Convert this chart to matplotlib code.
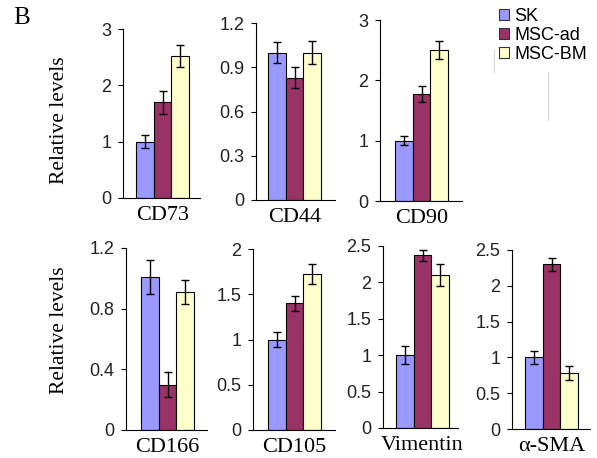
import matplotlib
matplotlib.use("Agg")
import matplotlib.pyplot as plt
from matplotlib.lines import Line2D
from matplotlib.patches import Patch

# Relative expression levels (SK, MSC-ad, MSC-BM)
groups = ['SK', 'MSC-ad', 'MSC-BM']
markers = ['CD73', 'CD44', 'CD90', 'CD166', 'CD105', 'Vimentin', 'α-SMA']
means = {
    'CD73': [1.0, 1.70, 2.52],
    'CD44': [1.0, 0.83, 1.00],
    'CD90': [1.0, 1.77, 2.50],
    'CD166': [1.01, 0.30, 0.91],
    'CD105': [1.0, 1.40, 1.72],
    'Vimentin': [1.0, 2.37, 2.10],
    'α-SMA': [1.0, 2.30, 0.78],
}
errs = {
    'CD73': [0.12, 0.20, 0.20],
    'CD44': [0.07, 0.07, 0.08],
    'CD90': [0.08, 0.13, 0.15],
    'CD166': [0.11, 0.08, 0.08],
    'CD105': [0.08, 0.08, 0.11],
    'Vimentin': [0.12, 0.07, 0.15],
    'α-SMA': [0.09, 0.09, 0.10],
}
yticks = {
    'CD73': [0, 1, 2, 3],
    'CD44': [0, 0.3, 0.6, 0.9, 1.2],
    'CD90': [0, 1, 2, 3],
    'CD166': [0, 0.4, 0.8, 1.2],
    'CD105': [0, 0.5, 1, 1.5, 2],
    'Vimentin': [0, 0.5, 1, 1.5, 2, 2.5],
    'α-SMA': [0, 0.5, 1, 1.5, 2, 2.5],
}

colors = ['#9999ff', '#993366', '#ffffcc']

# panel layout in pixels: y-axis x, x-axis right end, baseline y, top y, first bar x
layout = {
    'CD73': (123, 200, 198, 29, 136),
    'CD44': (256, 335, 200, 23, 268),
    'CD90': (380, 462, 201, 20, 395),
    'CD166': (126, 207, 430, 248, 141),
    'CD105': (253, 335, 430, 249, 268),
    'Vimentin': (383, 458, 428, 246, 396),
    'α-SMA': (512, 590, 429, 250, 525),
}

W, H = 597, 458
fig = plt.figure(figsize=(W / 100, H / 100), dpi=100)
bw = 17.7  # bar width in px

for name in markers:
    L, R, base, top, bstart = layout[name]
    ax = fig.add_axes([L / W, 1 - base / H, (R - L) / W, (base - top) / H])
    xs = [0, 1, 2]
    ax.bar(xs, means[name], width=1.0, color=colors, edgecolor='black', linewidth=0.8)
    ax.errorbar(xs, means[name], yerr=errs[name], fmt='none', ecolor='black',
                elinewidth=1, capsize=3.2, capthick=1)
    x0 = -0.5 - (bstart - L) / bw
    ax.set_xlim(x0, x0 + (R - L) / bw)
    ax.set_ylim(0, yticks[name][-1])
    ax.set_yticks(yticks[name], [f'{v:g}' for v in yticks[name]])
    ax.set_xticks([1], [name])
    ax.spines['top'].set_visible(False)
    ax.spines['right'].set_visible(False)
    ax.spines['left'].set_linewidth(0.8)
    ax.spines['bottom'].set_linewidth(0.8)
    ax.tick_params(axis='y', direction='out', length=3.5, width=0.8, pad=5,
                   labelsize=13, labelcolor='#222222')
    ax.tick_params(axis='x', length=0, pad=6)
    for t in ax.get_yticklabels():
        t.set_fontfamily('Liberation Sans')
    for t in ax.get_xticklabels():
        t.set_fontfamily('Liberation Serif')
        t.set_fontsize(16)

fig.text(60 / W, 1 - 120 / H, 'Relative levels', rotation=90, ha='center', va='center',
         family='Liberation Serif', fontsize=15.5)
fig.text(60 / W, 1 - 330 / H, 'Relative levels', rotation=90, ha='center', va='center',
         family='Liberation Serif', fontsize=15.5)
fig.text(22 / W, 1 - 18 / H, 'B', ha='center', va='center',
         family='Liberation Serif', fontsize=18)

handles = [Patch(facecolor=c, edgecolor='#333333', linewidth=0.8) for c in colors]
fig.legend(handles, groups, loc='upper left', bbox_to_anchor=(499 / W, 1 - 8 / H),
           frameon=False, prop={'family': 'Liberation Sans', 'size': 13},
           handlelength=0.55, handleheight=0.55, handletextpad=0.3, labelspacing=0.1,
           borderaxespad=0, borderpad=0)

# faint scan lines near the legend
fig.add_artist(Line2D([494 / W, 494 / W], [1 - 50 / H, 1 - 72 / H], color='#d8d8d8', lw=0.8))
fig.add_artist(Line2D([548 / W, 548 / W], [1 - 72 / H, 1 - 120 / H], color='#d8d8d8', lw=0.8))

fig.savefig('out.png', dpi=100)
